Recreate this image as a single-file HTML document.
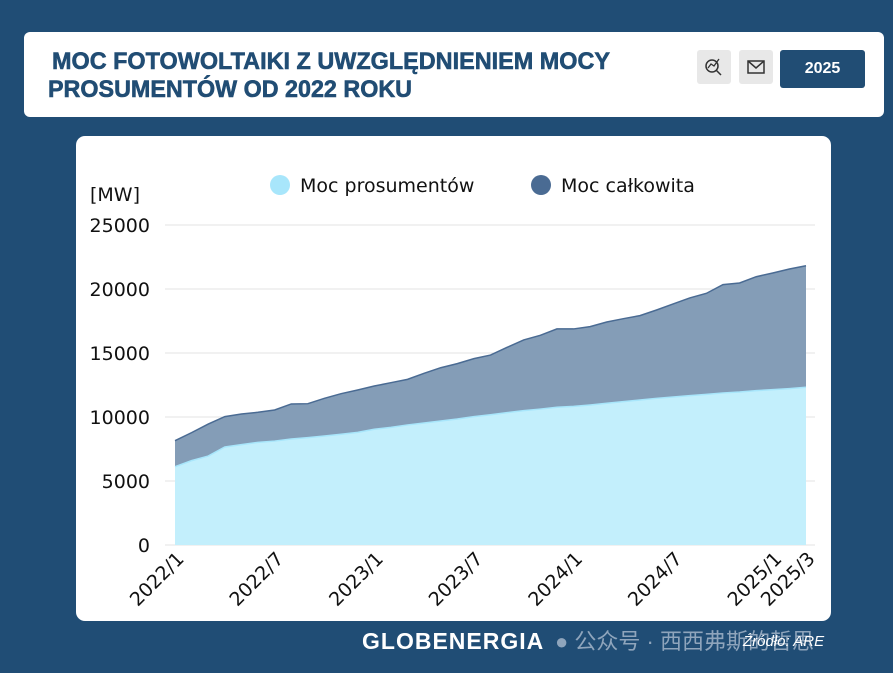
<!DOCTYPE html>
<html><head><meta charset="utf-8">
<style>
html,body{margin:0;padding:0;}
body{width:893px;height:673px;background:#204d75;position:relative;overflow:hidden;font-family:"Liberation Sans","Noto Sans CJK SC",sans-serif;}
.header{position:absolute;left:24px;top:32px;width:860px;height:85px;background:#fff;border-radius:6px;}
.card{position:absolute;left:76px;top:136px;width:755px;height:485px;background:#fff;border-radius:9px;}
.btn{position:absolute;top:18px;width:34px;height:34px;background:#e8e8e8;border-radius:3px;}
.year{position:absolute;left:756px;top:18px;width:85px;height:38px;background:#214d74;border-radius:3px;color:#fff;font-weight:bold;font-size:16px;line-height:38px;text-align:center;}
</style></head><body>
<div class="header">
<svg width="860" height="85" style="position:absolute;left:0;top:0">
<text x="28" y="37" font-family="Liberation Sans" font-weight="bold" font-size="24" fill="#214d74" stroke="#214d74" stroke-width="0.6" textLength="558" lengthAdjust="spacingAndGlyphs">MOC FOTOWOLTAIKI Z UWZGLĘDNIENIEM MOCY</text>
<text x="24" y="65" font-family="Liberation Sans" font-weight="bold" font-size="24" fill="#214d74" stroke="#214d74" stroke-width="0.6" textLength="364" lengthAdjust="spacingAndGlyphs">PROSUMENTÓW OD 2022 ROKU</text>
</svg>
<div class="btn" style="left:673px">
<svg width="34" height="34"><circle cx="15" cy="16" r="6" fill="none" stroke="#333" stroke-width="1.5"/><line x1="19" y1="20" x2="24" y2="25" stroke="#333" stroke-width="1.5"/><polyline points="11,18 14,14 17,16 22,9" fill="none" stroke="#333" stroke-width="1.3"/></svg></div>
<div class="btn" style="left:715px">
<svg width="34" height="34"><rect x="9" y="11" width="16" height="12" fill="none" stroke="#333" stroke-width="1.5"/><polyline points="9,11 17,18 25,11" fill="none" stroke="#333" stroke-width="1.5"/></svg></div>
<div class="year">2025</div>
</div>
<div class="card"></div>
<svg id="chart" width="893" height="673" style="position:absolute;left:0;top:0"></svg>
<div style="position:absolute;left:362px;top:628px;color:#fff;font-weight:900;font-size:23px;letter-spacing:1px">GLOBENERGIA</div>
<div style="position:absolute;left:555px;top:624px;color:#8fa5bc;font-size:22px;font-family:'Liberation Sans','Noto Sans CJK SC',sans-serif">● 公众号 · 西西弗斯的哲思</div>
<div style="position:absolute;left:743px;top:633px;color:#fff;font-style:italic;font-size:15px">Źródło: ARE</div>
<script>
const xLabels=["2022/1","2022/7","2023/1","2023/7","2024/1","2024/7","2025/1","2025/3"];
const xLabelIdx=[0,6,12,18,24,30,36,38];
const yTicks=[0,5000,10000,15000,20000,25000];
const prosumers=[6120,6590,6950,7660,7840,8020,8120,8280,8390,8520,8650,8800,9040,9190,9380,9530,9690,9840,10030,10180,10340,10500,10620,10760,10830,10940,11070,11200,11330,11460,11560,11670,11770,11880,11950,12060,12140,12220,12320];
const total=[8150,8780,9450,10030,10230,10370,10550,11020,11040,11460,11820,12110,12420,12680,12940,13410,13850,14170,14560,14840,15440,16020,16380,16880,16880,17060,17420,17680,17920,18360,18830,19300,19660,20340,20470,20960,21250,21560,21820];
const svg=document.getElementById('chart');const NS='http://www.w3.org/2000/svg';
const F='DejaVu Sans';
const X0=175,X1=806,Y0=545,Y1=225;
const x=i=>X0+(X1-X0)*i/(total.length-1);
const y=v=>Y0-(Y0-Y1)*v/25000;
function mk(t,a){const e=document.createElementNS(NS,t);for(const k in a)e.setAttribute(k,a[k]);svg.appendChild(e);return e;}
yTicks.forEach(v=>{
 const g=mk('line',{x1:165,x2:815,y1:y(v),y2:y(v),stroke:'#e3e3e3','stroke-width':1});
 
 
 const t=mk('text',{x:150,y:y(v)+7,'text-anchor':'end','font-size':19,fill:'#111','font-family':F});
 t.textContent=v;
 
 
});
function area(arr){let d='M'+x(0)+','+Y0;arr.forEach((v,i)=>d+=' L'+x(i)+','+y(v));d+=' L'+x(arr.length-1)+','+Y0+' Z';return d;}
function line(arr){return arr.map((v,i)=>(i?'L':'M')+x(i)+','+y(v)).join(' ');}
const a1=mk('path',{d:area(total),fill:'#849db7'});


const l1=mk('path',{d:line(total),fill:'none',stroke:'#4a6b93','stroke-width':1.5});


const a2=mk('path',{d:area(prosumers),fill:'#c3effc'});


const l2=mk('path',{d:line(prosumers),fill:'none',stroke:'#a8e6fb','stroke-width':1.5});


xLabels.forEach((s,k)=>{
 const px=x(xLabelIdx[k]);
 const t=mk('text',{x:px+10,y:560,'text-anchor':'end','font-size':19,fill:'#111','font-family':F,transform:'rotate(-45 '+(px+10)+' 560)'});
 t.textContent=s;
 
 
});
const u=mk('text',{x:90,y:201,'font-size':19,fill:'#111','font-family':F});u.textContent='[MW]';


[[280,'#a8e6fb','Moc prosumentów','legend-prosumers'],[541,'#4a6b93','Moc całkowita','legend-total']].forEach(([cx,c,s,n])=>{
 const g=mk('g',{});
 
 
 const ci=document.createElementNS(NS,'circle');ci.setAttribute('cx',cx);ci.setAttribute('cy',185);ci.setAttribute('r',10);ci.setAttribute('fill',c);g.appendChild(ci);
 const t=document.createElementNS(NS,'text');t.setAttribute('x',cx+20);t.setAttribute('y',192);t.setAttribute('font-size',19);t.setAttribute('fill','#111');t.setAttribute('font-family',F);t.textContent=s;g.appendChild(t);
});
</script>
</body></html>
